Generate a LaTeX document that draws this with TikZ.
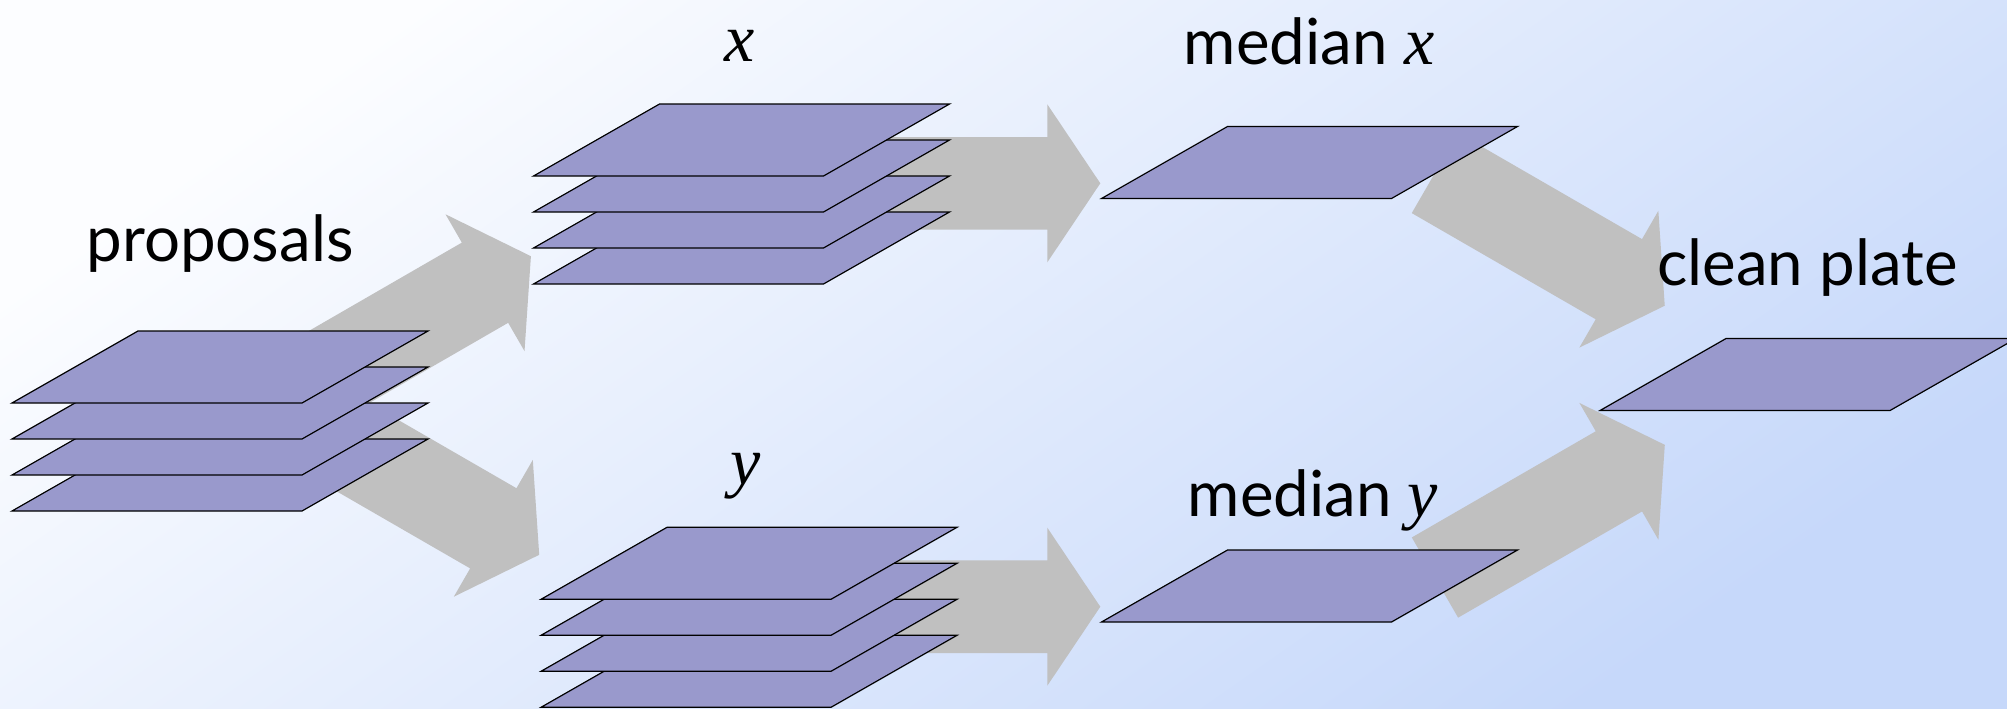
\documentclass[tikz,border=0pt]{standalone}
\usepackage{fontspec}
\setmainfont{Lato}
\newfontfamily\serifmathfont{Liberation Serif}
\newcommand\serifit{\fontsize{34}{40}\selectfont\serifmathfont\itshape}
\definecolor{platefill}{RGB}{153,153,204}
\definecolor{arrowgray}{RGB}{192,192,192}
\definecolor{bgA}{RGB}{252,253,255}
\definecolor{bgM}{RGB}{234,240,253}
\definecolor{bgB}{RGB}{198,216,250}
\tikzset{
  platestyle/.style={fill=platefill, draw=black, line width=0.6pt, line join=miter},
  platepic/.pic={\filldraw[platestyle] (0,0) -- (290,0) -- (416,-72) -- (126,-72) -- cycle;},
  lbl/.style={inner sep=0pt, anchor=base, font=\fontsize{31.8}{38}\selectfont},
  mathlbl/.style={inner sep=0pt, anchor=base, font=\serifit},
}
\newcommand\blockarrow[3]{%
  \begin{scope}[shift={(#1)}, rotate=#2]
    \fill[arrowgray] (0,-46.3) -- (#3,-46.3) -- (#3,-79) -- (#3+53,0) -- (#3,79) -- (#3,46.3) -- (0,46.3) -- cycle;
  \end{scope}}
\newcommand\platestack[3]{%
  \foreach \k in {3,2,1,0} {\pic (#1\k) at (#2,#3+36*\k) {platepic};}}
\begin{document}
\begin{tikzpicture}[x=0.5pt,y=-0.5pt]
\useasboundingbox (0,0) rectangle (2007,708);
\clip (0,0) rectangle (2007,708);
\shade[top color=bgA, middle color=bgM, bottom color=bgB, shading angle=35] (0,0) rectangle (2007,708);
% arrow tails
\coordinate (t1) at (268.5,407.7);
\coordinate (t2) at (276.8,403.3);
\coordinate (t3) at (800,183.3);
\coordinate (t4) at (800,606.7);
\coordinate (t5) at (1434.9,173);
\coordinate (t6) at (1434.95,577.55);
\blockarrow{t1}{30}{250}
\blockarrow{t2}{-30}{250}
\blockarrow{t3}{0}{247.3}
\blockarrow{t4}{0}{247.3}
\blockarrow{t5}{-30}{212.4}
\blockarrow{t6}{30}{212.4}
% plates
\platestack{prop}{12}{403}
\platestack{xs}{533.5}{176}
\platestack{ys}{541}{599.3}
\pic (medxplate) at (1101.5,198.5) {platepic};
\pic (medyplate) at (1101.5,622) {platepic};
\pic (cleanplate) at (1600,410.5) {platepic};
% labels
\node[lbl] (proposals) at (220,261) {proposals};
\node[mathlbl] (xlbl) at (740,61) {x};
\node[mathlbl] (ylbl) at (746,484) {y};
\node[lbl] (medx) at (1309,64) {median \serifit x};
\node[lbl] (medy) at (1313,516) {median \serifit y};
\node[lbl] (clean) at (1807.5,285) {clean plate};
\end{tikzpicture}
\end{document}
